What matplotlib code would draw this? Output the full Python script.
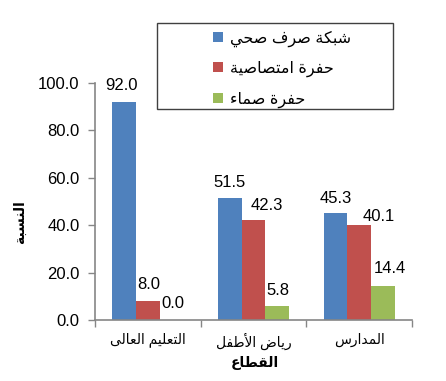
import numpy as np
import matplotlib
matplotlib.use("Agg")
import matplotlib.pyplot as plt
from matplotlib.patches import Rectangle

# ---------------- data ----------------
categories = ["التعليم العالى", "رياض الأطفل", "المدارس"]
series_names = ["شبكة صرف صحي", "حفرة امتصاصية", "حفرة صماء"]
sewer = [92.0, 51.5, 45.3]
absorb = [8.0, 42.3, 40.1]
blind = [0.0, 5.8, 14.4]
y_ticks = [0, 20, 40, 60, 80, 100]
y_label = "النسبة"
x_label = "القطاع"

# ---------------- minimal Arabic shaping ----------------
_FORMS = {
    '\u0621': ('\uFE80', None, None, None),
    '\u0622': ('\uFE81', '\uFE82', None, None),
    '\u0623': ('\uFE83', '\uFE84', None, None),
    '\u0625': ('\uFE87', '\uFE88', None, None),
    '\u0627': ('\uFE8D', '\uFE8E', None, None),
    '\u0628': ('\uFE8F', '\uFE90', '\uFE91', '\uFE92'),
    '\u0629': ('\uFE93', '\uFE94', None, None),
    '\u062A': ('\uFE95', '\uFE96', '\uFE97', '\uFE98'),
    '\u062B': ('\uFE99', '\uFE9A', '\uFE9B', '\uFE9C'),
    '\u062C': ('\uFE9D', '\uFE9E', '\uFE9F', '\uFEA0'),
    '\u062D': ('\uFEA1', '\uFEA2', '\uFEA3', '\uFEA4'),
    '\u062E': ('\uFEA5', '\uFEA6', '\uFEA7', '\uFEA8'),
    '\u062F': ('\uFEA9', '\uFEAA', None, None),
    '\u0630': ('\uFEAB', '\uFEAC', None, None),
    '\u0631': ('\uFEAD', '\uFEAE', None, None),
    '\u0632': ('\uFEAF', '\uFEB0', None, None),
    '\u0633': ('\uFEB1', '\uFEB2', '\uFEB3', '\uFEB4'),
    '\u0634': ('\uFEB5', '\uFEB6', '\uFEB7', '\uFEB8'),
    '\u0635': ('\uFEB9', '\uFEBA', '\uFEBB', '\uFEBC'),
    '\u0636': ('\uFEBD', '\uFEBE', '\uFEBF', '\uFEC0'),
    '\u0637': ('\uFEC1', '\uFEC2', '\uFEC3', '\uFEC4'),
    '\u0638': ('\uFEC5', '\uFEC6', '\uFEC7', '\uFEC8'),
    '\u0639': ('\uFEC9', '\uFECA', '\uFECB', '\uFECC'),
    '\u063A': ('\uFECD', '\uFECE', '\uFECF', '\uFED0'),
    '\u0641': ('\uFED1', '\uFED2', '\uFED3', '\uFED4'),
    '\u0642': ('\uFED5', '\uFED6', '\uFED7', '\uFED8'),
    '\u0643': ('\uFED9', '\uFEDA', '\uFEDB', '\uFEDC'),
    '\u0644': ('\uFEDD', '\uFEDE', '\uFEDF', '\uFEE0'),
    '\u0645': ('\uFEE1', '\uFEE2', '\uFEE3', '\uFEE4'),
    '\u0646': ('\uFEE5', '\uFEE6', '\uFEE7', '\uFEE8'),
    '\u0647': ('\uFEE9', '\uFEEA', '\uFEEB', '\uFEEC'),
    '\u0648': ('\uFEED', '\uFEEE', None, None),
    '\u0649': ('\uFEEF', '\uFEF0', None, None),
    '\u064A': ('\uFEF1', '\uFEF2', '\uFEF3', '\uFEF4'),
}
_LAMALEF = {'\u0622': ('\uFEF5', '\uFEF6'), '\u0623': ('\uFEF7', '\uFEF8'),
            '\u0625': ('\uFEF9', '\uFEFA'), '\u0627': ('\uFEFB', '\uFEFC')}


def _dual(c):
    return c in _FORMS and _FORMS[c][2] is not None


def shape(text):
    out = []
    i = 0
    n = len(text)
    while i < n:
        c = text[i]
        if c not in _FORMS:
            out.append(c)
            i += 1
            continue
        prev_join = i > 0 and _dual(text[i - 1])
        if c == '\u0644' and i + 1 < n and text[i + 1] in _LAMALEF:
            iso, fin = _LAMALEF[text[i + 1]]
            out.append(fin if prev_join else iso)
            i += 2
            continue
        nxt = text[i + 1] if i + 1 < n else ''
        next_join = _dual(c) and nxt in _FORMS
        iso, fin, ini, med = _FORMS[c]
        if prev_join and next_join:
            out.append(med)
        elif prev_join:
            out.append(fin)
        elif next_join:
            out.append(ini)
        else:
            out.append(iso)
        i += 1
    return ''.join(out)[::-1]


# ---------------- style ----------------
FONT = ['Liberation Sans', 'DejaVu Sans']
plt.rcParams['font.family'] = FONT
colors = ['#4F81BD', '#C0504D', '#9BBB59']
axis_color = '#868686'
bar_w = 0.225
num_fs = 12
# per-label nudges in pixels (dx, dy above bar top to baseline)
label_dx = [[-2.5, 0.5, 1.0], [0.0, 13.5, 1.0], [0.0, 19.5, 6.5]]
label_dy = [[12, 12, 12.5], [11, 10, 11], [10, 4, 13]]

fig = plt.figure(figsize=(4.46, 3.81), dpi=100)
W, H = 446, 381
ax = fig.add_axes([95 / W, (H - 320) / H, 317 / W, 237 / H])

series = [sewer, absorb, blind]
x = np.arange(len(categories))
offs = [-bar_w, 0, bar_w]
handles = []
for s, (vals, col, name) in enumerate(zip(series, colors, series_names)):
    bars = ax.bar(x + offs[s], vals, bar_w, color=col, label=shape(name),
                  edgecolor='none')
    handles.append(bars)
    for g, (xx, v) in enumerate(zip(x + offs[s], vals)):
        ax.annotate(f"{v:.1f}", (xx, v),
                    xytext=(label_dx[g][s] * 0.72, label_dy[g][s] * 0.72),
                    textcoords='offset points', ha='center', va='baseline',
                    fontsize=num_fs, color='black')

ax.set_xlim(-0.5, len(categories) - 0.5)
ax.set_ylim(0, 100)
ax.set_yticks(y_ticks)
ax.set_yticklabels([f"{t:.1f}" for t in y_ticks], fontsize=num_fs)
ax.set_xticks(x)
ax.set_xticklabels([shape(c) for c in categories], fontsize=10)
ax.set_xticks(np.arange(-0.5, len(categories)), minor=True)
ax.tick_params(axis='x', which='major', length=0, pad=9)
ax.tick_params(axis='x', which='minor', length=5, color=axis_color, width=1)
ax.tick_params(axis='y', length=5, color=axis_color, width=1, pad=6)

for sp in ['top', 'right']:
    ax.spines[sp].set_visible(False)
for sp in ['left', 'bottom']:
    ax.spines[sp].set_color(axis_color)
    ax.spines[sp].set_linewidth(1.2)

fig.text(20 / W, 1 - 222 / H, shape(y_label), rotation=90, ha='center',
         va='center', fontsize=10, fontweight='bold')
fig.text(255 / W, 1 - 363 / H, shape(x_label), ha='center', va='center',
         fontsize=10, fontweight='bold')

# legend box
fig.patches.append(Rectangle((157 / W, 1 - 109 / H), 236 / W, 86 / H,
                             transform=fig.transFigure, facecolor='white',
                             edgecolor='#404040', linewidth=1.0))
leg = fig.legend(handles=handles, loc='upper left',
                 bbox_to_anchor=(207 / W, 1 - 24 / H), frameon=False,
                 fontsize=11.5, handlelength=0.6, handleheight=0.6,
                 handletextpad=0.45, labelspacing=0.88, borderaxespad=0)

fig.savefig('out.png', dpi=100)
